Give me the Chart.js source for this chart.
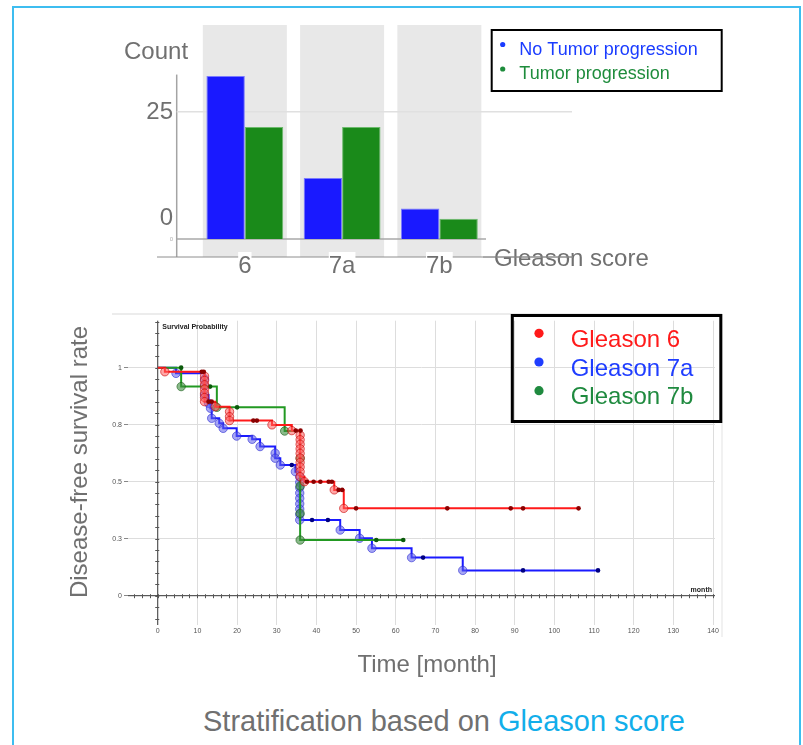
<!DOCTYPE html>
<html>
<head>
<meta charset="utf-8">
<script src="https://cdn.jsdelivr.net/npm/chart.js@4.4.0/dist/chart.umd.min.js"></script>
<style>
  html, body { margin: 0; padding: 0; background: #fff; }
  body { width: 803px; height: 745px; position: relative; overflow: hidden; font-family: "Liberation Sans", Arial, sans-serif; }
  #frame { position: absolute; left: 12px; top: 6px; width: 789px; height: 820px; border: 2px solid #3dbdf0; box-sizing: border-box; }
  #barWrap { position: absolute; left: 0; top: 0; width: 803px; height: 290px; }
  #kmWrap { position: absolute; left: 0; top: 290px; width: 803px; height: 400px; }
  #caption { position: absolute; left: 203px; top: 704px; font-size: 29px; line-height: 34px; color: #707070; white-space: nowrap; }
  #caption span { color: #12aeea; }
</style>
</head>
<body>
<div id="frame"></div>
<div id="barWrap"><canvas id="bars"></canvas></div>
<div id="kmWrap"><canvas id="km"></canvas></div>
<div id="caption">Stratification based on <span>Gleason score</span></div>
<script>
// ---- Patient counts per Gleason group ----
const gleasonCategories = ['6', '7a', '7b'];
const noProgressionCounts = [32, 12, 6];
const progressionCounts = [22, 22, 4];
const countTickValues = [0, 25];

// ---- Kaplan-Meier curves: event times (months) and survival after each event ----
const g6EventTime = [1.8, 11.8, 11.8, 11.8, 11.8, 11.8, 11.8, 11.8, 14.5, 18.1, 18.1, 18.1, 28.8, 33.8,
  35.9, 35.9, 35.9, 35.9, 35.9, 35.9, 35.9, 35.9, 35.9, 35.9, 37.0, 44.5, 46.9];
const g6EventSurv = [0.982, 0.963, 0.944, 0.925, 0.906, 0.888, 0.869, 0.851, 0.829, 0.807, 0.785, 0.768, 0.749, 0.724,
  0.704, 0.684, 0.664, 0.644, 0.624, 0.604, 0.584, 0.564, 0.544, 0.522, 0.500, 0.464, 0.383];
const g6CensorTime = [11.1, 11.6, 12.8, 13.6, 24.1, 25.0, 34.8, 36.0, 37.6, 39.3, 41.0, 43.1, 43.9, 45.6, 46.5, 50.0, 73.0, 89.0, 92.1, 106.1];
const g6CensorSurv = [0.982, 0.982, 0.851, 0.851, 0.768, 0.768, 0.724, 0.724, 0.5, 0.5, 0.5, 0.5, 0.5, 0.464, 0.464, 0.383, 0.383, 0.383, 0.383, 0.383];

const g7aEventTime = [4.6, 11.8, 11.8, 11.8, 12.8, 13.3, 13.6, 15.5, 16.5, 19.9, 23.8, 25.8, 29.6, 29.6, 30.9, 34.7,
  35.8, 35.8, 35.8, 35.8, 35.8, 35.8, 35.8, 35.8, 35.8, 46.0, 50.9, 54.0, 64.0, 76.9];
const g7aEventSurv = [0.975, 0.95, 0.92, 0.88, 0.844, 0.822, 0.778, 0.756, 0.734, 0.70, 0.686, 0.654, 0.625, 0.603, 0.573, 0.544,
  0.52, 0.497, 0.474, 0.45, 0.427, 0.403, 0.38, 0.356, 0.332, 0.288, 0.252, 0.208, 0.167, 0.111];
const g7aCensorTime = [33.8, 38.9, 42.9, 66.9, 92.1, 111.0];
const g7aCensorSurv = [0.573, 0.332, 0.332, 0.167, 0.111, 0.111];

const g7bEventTime = [5.9, 14.9, 32.0, 35.9, 35.9, 35.9, 35.9];
const g7bEventSurv = [0.917, 0.826, 0.722, 0.602, 0.481, 0.361, 0.244];
const g7bCensorTime = [5.9, 13.2, 20.0, 55.1, 61.9];
const g7bCensorSurv = [1.0, 0.917, 0.826, 0.244, 0.244];

const monthTickValues = [0, 10, 20, 30, 40, 50, 60, 70, 80, 90, 100, 110, 120, 130, 140];
const survivalTickValues = [0, 0.25, 0.5, 0.75, 1];

const FONT = '"Liberation Sans", Arial, sans-serif';
const GRAY_TEXT = '#707070';

function line(ctx, x1, y1, x2, y2, color, w) {
  ctx.beginPath();
  ctx.strokeStyle = color;
  ctx.lineWidth = w;
  ctx.moveTo(x1, y1);
  ctx.lineTo(x2, y2);
  ctx.stroke();
}

// ================= Bar chart =================
const barLabelPads = [
  { left: 21, right: 5, top: 3, bottom: 10 },
  { left: 26, right: 27, top: 3, bottom: 10 },
  { left: 22, right: 30, top: 3, bottom: 10 }
];

const barDecor = {
  id: 'barDecor',
  beforeDraw(chart) {
    const { ctx, chartArea: a, scales: { x, y } } = chart;
    const base = y.getPixelForValue(0);
    const axisY = base + 18;
    ctx.save();
    // grey band behind each category
    ctx.fillStyle = '#e8e8e8';
    gleasonCategories.forEach((c, i) => {
      const cx = x.getPixelForValue(i);
      ctx.fillRect(cx - 42, 25, 84, axisY - 25);
    });
    const axisX = a.left - 19.5;
    line(ctx, axisX, y.getPixelForValue(32.3), axisX, axisY, '#a4a4a4', 1.5);
    const y25 = y.getPixelForValue(25);
    line(ctx, axisX, y25, 572, y25, '#e0e0e0', 1.5);
    line(ctx, axisX, base, a.right - 2, base, '#a8a8a8', 1.5);
    line(ctx, 157, axisY, 573, axisY, '#8e8e8e', 1);
    ctx.restore();
  },
  afterDraw(chart) {
    const { ctx, chartArea: a, scales: { x, y } } = chart;
    const base = y.getPixelForValue(0);
    ctx.save();
    ctx.fillStyle = GRAY_TEXT;
    ctx.font = '24px ' + FONT;
    ctx.textBaseline = 'middle';
    ctx.textAlign = 'left';
    ctx.fillText('Count', 124, 52);
    ctx.textAlign = 'right';
    ctx.fillText(String(countTickValues[1]), 173, y.getPixelForValue(countTickValues[1]) + 1);
    ctx.fillText(String(countTickValues[0]), 173, base - 21);
    ctx.font = '6px ' + FONT;
    ctx.fillStyle = '#b0b0b0';
    ctx.fillText('0', 173, base);
    // axis title with the axis line running through it
    ctx.font = '24px ' + FONT;
    ctx.fillStyle = GRAY_TEXT;
    ctx.textAlign = 'left';
    ctx.fillText('Gleason score', 494, base + 20);
    line(ctx, 483, base + 18, 573, base + 18, '#8e8e8e', 1);
    // legend
    ctx.lineWidth = 2;
    ctx.strokeStyle = '#000';
    ctx.strokeRect(491.7, 30, 230, 61);
    const legendColors = ['#1a3cff', '#1e8c3c'];
    chart.data.datasets.forEach((ds, i) => {
      const ly = 44.5 + i * 24.5;
      ctx.fillStyle = legendColors[i];
      ctx.beginPath();
      ctx.arc(502.7, ly, 2.6, 0, Math.PI * 2);
      ctx.fill();
      ctx.font = '18px ' + FONT;
      ctx.textAlign = 'left';
      ctx.fillText(ds.label, 519.3, ly + 5.5);
    });
    ctx.restore();
  }
};

new Chart(document.getElementById('bars'), {
  type: 'bar',
  data: {
    labels: gleasonCategories,
    datasets: [
      { label: 'No Tumor progression', data: noProgressionCounts, backgroundColor: '#1919ff', borderColor: '#7a7aff', borderWidth: 1 },
      { label: 'Tumor progression', data: progressionCounts, backgroundColor: '#1a8a1a', borderColor: '#6cba6c', borderWidth: 1 }
    ]
  },
  options: {
    responsive: true,
    maintainAspectRatio: false,
    devicePixelRatio: 1,
    animation: false,
    events: [],
    layout: { padding: { left: 196.2, right: 315, top: 71, bottom: 0 } },
    plugins: { legend: { display: false }, tooltip: { enabled: false } },
    datasets: { bar: { categoryPercentage: 0.79, barPercentage: 1.0 } },
    scales: {
      x: {
        afterFit: s => { s.height = 51; },
        grid: { display: false },
        border: { display: false },
        ticks: {
          color: GRAY_TEXT,
          font: { size: 24, family: FONT },
          padding: 5,
          maxRotation: 0,
          showLabelBackdrop: true,
          backdropColor: '#ffffff',
          backdropPadding: ctx => barLabelPads[ctx.index] || 0
        }
      },
      y: {
        display: false,
        min: 0,
        max: 33
      }
    }
  },
  plugins: [barDecor]
});

// ================= Kaplan-Meier chart =================
function stepPoints(times, surv, endTime) {
  const pts = [{ x: 0, y: 1 }];
  times.forEach((t, i) => pts.push({ x: t, y: surv[i] }));
  pts.push({ x: endTime, y: surv[surv.length - 1] });
  return pts;
}
function markPoints(times, surv) {
  return times.map((t, i) => ({ x: t, y: surv[i] }));
}

const groups = [
  { label: 'Gleason 6', line: '#ff1a1a', fill: 'rgba(255,95,95,0.55)', edge: 'rgba(200,0,0,0.6)', dark: '#8a0000', legend: '#ff1a1a',
    et: g6EventTime, es: g6EventSurv, ct: g6CensorTime, cs: g6CensorSurv, order: 1 },
  { label: 'Gleason 7a', line: '#1a1aff', fill: 'rgba(95,95,235,0.55)', edge: 'rgba(40,40,210,0.6)', dark: '#000080', legend: '#1f3dff',
    et: g7aEventTime, es: g7aEventSurv, ct: g7aCensorTime, cs: g7aCensorSurv, order: 5 },
  { label: 'Gleason 7b', line: '#229922', fill: 'rgba(60,140,60,0.6)', edge: 'rgba(20,90,20,0.6)', dark: '#0b5a0b', legend: '#1f8a3f',
    et: g7bEventTime, es: g7bEventSurv, ct: g7bCensorTime, cs: g7bCensorSurv, order: 3 }
];

const kmDatasets = [];
groups.forEach(g => {
  const end = Math.max(g.et[g.et.length - 1], g.ct[g.ct.length - 1]);
  const pts = stepPoints(g.et, g.es, end);
  kmDatasets.push({
    type: 'line',
    label: g.label,
    data: pts,
    stepped: true,
    borderColor: g.line,
    borderWidth: 2,
    fill: false,
    pointRadius: ctx => (ctx.dataIndex === 0 || ctx.dataIndex === pts.length - 1) ? 0 : 4.2,
    pointBackgroundColor: g.fill,
    pointBorderColor: g.edge,
    pointBorderWidth: 1,
    order: g.order + 1
  });
  kmDatasets.push({
    type: 'line',
    label: g.label + ' censored',
    data: markPoints(g.ct, g.cs),
    showLine: false,
    pointRadius: 2.3,
    pointBackgroundColor: g.dark,
    pointBorderWidth: 0,
    order: g.order
  });
});

const kmDecor = {
  id: 'kmDecor',
  beforeDatasetsDraw(chart) {
    const { ctx, chartArea: a, scales: { x, y } } = chart;
    const x0 = x.getPixelForValue(0);
    const y0 = y.getPixelForValue(0);
    ctx.save();
    // panel edges
    line(ctx, 112, 24, 722, 24, '#ececec', 2);
    line(ctx, 722, 24, 722, 347, '#ececec', 1.5);
    // axes through the origin
    line(ctx, x0, a.top, x0, a.bottom, '#3a3a3a', 1);
    line(ctx, a.left, y0, a.right, y0, '#3a3a3a', 1);
    for (let v = -0.1; v <= 1.2001; v += 0.05) {
      const py = Math.round(y.getPixelForValue(v)) + 0.5;
      line(ctx, x0 - 2.5, py, x0 + 1.5, py, '#555', 1);
    }
    for (let m = -6; m <= 140; m += 2) {
      const px = Math.round(x.getPixelForValue(m)) + 0.5;
      line(ctx, px, y0 - 1.5, px, y0 + 2.5, '#555', 1);
    }
    ctx.fillStyle = '#222';
    ctx.font = 'bold 7px ' + FONT;
    ctx.textBaseline = 'middle';
    ctx.textAlign = 'left';
    ctx.fillText('Survival Probability', x0 + 4.5, a.top + 6.5);
    ctx.textAlign = 'right';
    ctx.fillText('month', a.right - 3, y0 - 6);
    ctx.restore();
  },
  afterDraw(chart) {
    const { ctx } = chart;
    ctx.save();
    ctx.fillStyle = GRAY_TEXT;
    ctx.font = '24px ' + FONT;
    ctx.textBaseline = 'middle';
    ctx.textAlign = 'center';
    ctx.fillText('Time [month]', 427, 375);
    ctx.translate(80, 172);
    ctx.rotate(-Math.PI / 2);
    ctx.fillText('Disease-free survival rate', 0, 0);
    ctx.restore();
    // legend
    ctx.save();
    ctx.lineWidth = 3;
    ctx.strokeStyle = '#000';
    ctx.strokeRect(512.3, 25.5, 208.5, 106);
    groups.forEach((g, i) => {
      const ly = 43.3 + i * 28.7;
      ctx.fillStyle = g.legend;
      ctx.beginPath();
      ctx.arc(539, ly, 4.6, 0, Math.PI * 2);
      ctx.fill();
      ctx.font = '24px ' + FONT;
      ctx.textAlign = 'left';
      ctx.textBaseline = 'middle';
      ctx.fillText(g.label, 570.7, ly + 7);
    });
    ctx.restore();
  }
};

new Chart(document.getElementById('km'), {
  type: 'line',
  data: { datasets: kmDatasets },
  options: {
    responsive: true,
    maintainAspectRatio: false,
    devicePixelRatio: 1,
    animation: false,
    events: [],
    layout: { padding: { left: 0, right: 88, top: 30.7, bottom: 0 } },
    plugins: { legend: { display: false }, tooltip: { enabled: false } },
    scales: {
      x: {
        type: 'linear',
        min: -7.5,
        max: 140.5,
        afterFit: s => { s.height = 65; },
        afterBuildTicks: s => { s.ticks = monthTickValues.map(v => ({ value: v })); },
        grid: { color: '#dddddd', lineWidth: 1, drawTicks: false },
        border: { display: false },
        ticks: { color: '#555', font: { size: 7, family: FONT }, padding: 2, maxRotation: 0, autoSkip: false }
      },
      y: {
        type: 'linear',
        min: -0.1285,
        max: 1.206,
        afterFit: s => { s.width = 128; },
        afterBuildTicks: s => { s.ticks = survivalTickValues.map(v => ({ value: v })); },
        grid: { color: '#dddddd', lineWidth: 1, drawTicks: true, tickLength: 4, tickColor: '#888' },
        border: { display: false },
        ticks: {
          color: '#555',
          font: { size: 7, family: FONT },
          padding: 2,
          callback: v => String(Math.round(v * 10) / 10)
        }
      }
    }
  },
  plugins: [kmDecor]
});
</script>
</body>
</html>
